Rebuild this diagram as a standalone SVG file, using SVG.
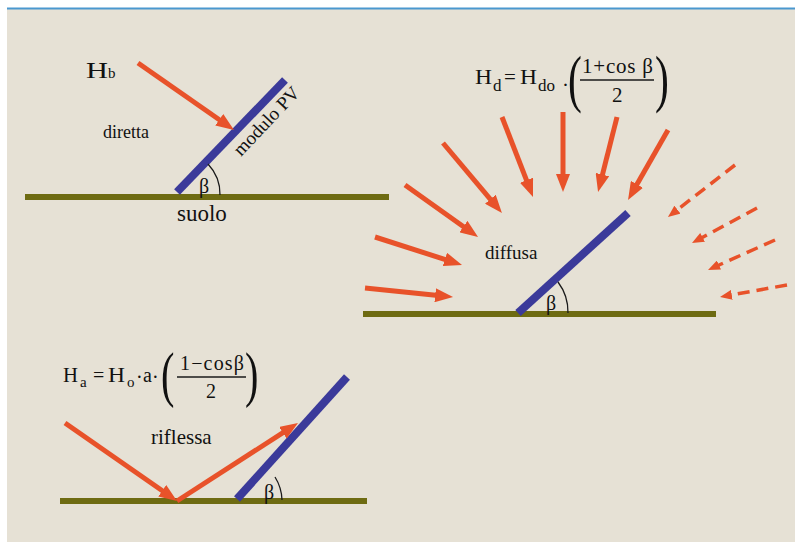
<svg xmlns="http://www.w3.org/2000/svg" width="795" height="542" viewBox="0 0 795 542">
<style>
text{font-family:"Liberation Serif","Times New Roman",serif;fill:#111111}
.ground{stroke:#6e6b12;stroke-width:6;fill:none}
.pv{stroke:#3b3a9a;stroke-width:8;fill:none}
.ray{stroke:#e8522a;stroke-width:5;fill:none;marker-end:url(#ah)}
.dray{stroke:#e8522a;stroke-width:3.5;fill:none;stroke-dasharray:12 7;marker-end:url(#ahs)}
.arc{stroke:#1a1a1a;stroke-width:1.3;fill:none}
.frac{stroke:#1a1a1a;stroke-width:1.3}
</style>
<defs>
<marker id="ah" markerUnits="userSpaceOnUse" markerWidth="18" markerHeight="14" refX="8" refY="7" orient="auto"><path d="M0,0 L18,7 L0,14 z" fill="#e8522a"/></marker>
<marker id="ahs" markerUnits="userSpaceOnUse" markerWidth="12" markerHeight="10" refX="6" refY="5" orient="auto"><path d="M0,0 L12,5 L0,10 z" fill="#e8522a"/></marker>
</defs>
<rect x="0" y="0" width="795" height="542" fill="#ffffff"/>
<rect x="7" y="9" width="788" height="533" fill="#e6e1d5"/>
<line x1="7" y1="8.5" x2="795" y2="8.5" stroke="#4a98cf" stroke-width="2"/>

<g id="diretta">
<line class="ground" x1="25" y1="197" x2="389" y2="197"/>
<line class="pv" x1="177" y1="192" x2="285" y2="80"/>
<path class="arc" d="M208,164 A44,44 0 0 1 220,195"/>
<text x="199" y="193" font-size="20">β</text>
<text x="86" y="78" font-size="23" textLength="22" lengthAdjust="spacingAndGlyphs">H</text>
<text x="108" y="78" font-size="15">b</text>
<text x="103" y="138" font-size="18">diretta</text>
<text x="177" y="221" font-size="23">suolo</text>
<text font-size="19" transform="translate(241,157) rotate(-46.6)">modulo PV</text>
</g>

<g id="diffusa">
<line class="ground" x1="363" y1="314" x2="716" y2="314"/>
<line class="pv" x1="518" y1="313" x2="628" y2="213"/>
<path class="arc" d="M558,282 A50,50 0 0 1 568,313"/>
<text x="546" y="310" font-size="20">β</text>
<text x="485" y="259" font-size="19">diffusa</text>
<g id="formula-d">
<text x="475" y="84" font-size="21" textLength="17" lengthAdjust="spacingAndGlyphs">H</text>
<text x="493" y="91" font-size="17">d</text>
<text x="504" y="84" font-size="21">=</text>
<text x="520" y="84" font-size="21" textLength="17" lengthAdjust="spacingAndGlyphs">H</text>
<text x="538" y="91" font-size="17">do</text>
<text x="562" y="92" font-size="21">·</text>
<text font-size="64" transform="translate(568,100) scale(0.65,1)">(</text>
<text x="582" y="73" font-size="21" textLength="71">1+cos β</text>
<line class="frac" x1="580" y1="80" x2="654" y2="80"/>
<text x="612" y="102" font-size="21">2</text>
<text font-size="64" transform="translate(655,100) scale(0.65,1)">)</text>
</g>
</g>

<g id="riflessa">
<line class="ground" x1="60" y1="501" x2="367" y2="501"/>
<line class="pv" x1="237" y1="499" x2="347" y2="377"/>
<path class="arc" d="M275,477 A46,46 0 0 1 282,500"/>
<text x="264" y="499" font-size="20">β</text>
<text x="151" y="444" font-size="21">riflessa</text>
<g id="formula-a">
<text x="63" y="382" font-size="20" textLength="15" lengthAdjust="spacingAndGlyphs">H</text>
<text x="80" y="387" font-size="15">a</text>
<text x="93" y="382" font-size="20">=</text>
<text x="108" y="382" font-size="20" textLength="17" lengthAdjust="spacingAndGlyphs">H</text>
<text x="127" y="387" font-size="15">o</text>
<text x="136" y="384" font-size="20">·</text>
<text x="143" y="382" font-size="20">a</text>
<text x="152" y="384" font-size="20">·</text>
<text font-size="62" transform="translate(161,395) scale(0.65,1)">(</text>
<text x="180" y="370" font-size="20" textLength="64">1−cosβ</text>
<line class="frac" x1="177" y1="377" x2="246" y2="377"/>
<text x="206" y="398" font-size="20">2</text>
<text font-size="62" transform="translate(245,395) scale(0.65,1)">)</text>
</g>
</g>

<g id="connectors">
<line class="ray" x1="138" y1="63" x2="225.8" y2="124.3"/>
<line class="ray" x1="365" y1="288" x2="443.1" y2="296"/>
<line class="ray" x1="375" y1="237" x2="452.5" y2="261.9"/>
<line class="ray" x1="405" y1="185" x2="469.9" y2="231.2"/>
<line class="ray" x1="443" y1="143" x2="495.5" y2="205.3"/>
<line class="ray" x1="502" y1="117" x2="529.4" y2="187.7"/>
<line class="ray" x1="563" y1="112" x2="563" y2="182"/>
<line class="ray" x1="617" y1="117" x2="600.5" y2="182.3"/>
<line class="ray" x1="668" y1="130" x2="633" y2="191.3"/>
<line class="dray" x1="735" y1="165" x2="672.7" y2="213.3"/>
<line class="dray" x1="757" y1="208" x2="697.3" y2="240.2"/>
<line class="dray" x1="775" y1="240" x2="713.5" y2="267.5"/>
<line class="dray" x1="787" y1="285" x2="725.9" y2="295.9"/>
<line class="ray" x1="65" y1="423" x2="168.8" y2="495.3"/>
<line class="ray" x1="177" y1="501" x2="289.6" y2="428.4"/>
</g>
</svg>
